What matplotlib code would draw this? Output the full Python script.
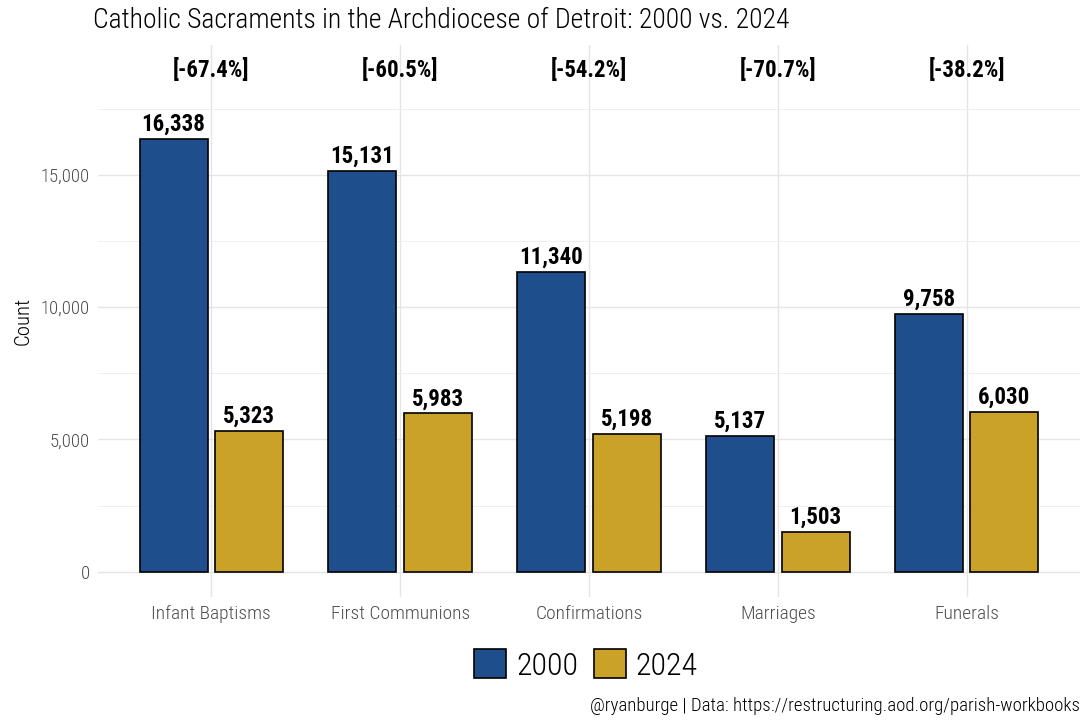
import matplotlib
matplotlib.use("Agg")
import matplotlib.pyplot as plt
from matplotlib import font_manager as fm
from matplotlib.patches import Patch
import numpy as np

categories = ["Infant Baptisms", "First Communions", "Confirmations", "Marriages", "Funerals"]
vals_2000 = [16338, 15131, 11340, 5137, 9758]
vals_2024 = [5323, 5983, 5198, 1503, 6030]
pct_labels = ["[-67.4%]", "[-60.5%]", "[-54.2%]", "[-70.7%]", "[-38.2%]"]
years = ["2000", "2024"]
yticks = [0, 5000, 10000, 15000]

blue = "#1F4E8C"
gold = "#C9A227"

names = {f.name for f in fm.fontManager.ttflist}
fam = None
for cand in ["Roboto Condensed", "Liberation Sans Narrow", "DejaVu Sans Condensed", "Roboto"]:
    if cand in names:
        fam = cand
        break
plt.rcParams["font.family"] = [fam or "DejaVu Sans", "DejaVu Sans"]

fig = plt.figure(figsize=(10.89, 7.26), dpi=100)
ax = fig.add_axes([98/1089, 1-597/726, (1080-98)/1089, (597-45)/726])

x = np.arange(1, len(categories)+1)
w = 0.36
ax.bar(x-0.2, vals_2000, width=w, color=blue, edgecolor="black", linewidth=1.2, zorder=3)
ax.bar(x+0.2, vals_2024, width=w, color=gold, edgecolor="black", linewidth=1.2, zorder=3)

for xi, v in zip(x, vals_2000):
    ax.text(xi-0.2, v+120, f"{v:,}", ha="center", va="bottom", fontsize=16.5, fontweight="bold", zorder=4)
for xi, v in zip(x, vals_2024):
    ax.text(xi+0.2, v+120, f"{v:,}", ha="center", va="bottom", fontsize=16.5, fontweight="bold", zorder=4)
for xi, p in zip(x, pct_labels):
    ax.text(xi, 18950, p, ha="center", va="center", fontsize=16.5, fontweight="bold", zorder=4)

ax.set_xlim(0.4, 5.6)
ax.set_ylim(-950, 19900)
ax.set_xticks(x)
ax.set_xticklabels(categories, fontsize=14, color="#4d4d4d", fontweight="light")
ax.set_yticks(yticks)
ax.set_yticklabels([f"{t:,}" for t in yticks], fontsize=13.5, color="#4d4d4d", fontweight="light")
ax.set_yticks([2500, 7500, 12500, 17500], minor=True)
ax.grid(True, which="major", color="#e5e5e5", linewidth=1.0, zorder=0)
ax.grid(True, which="minor", axis="y", color="#efefef", linewidth=0.7, zorder=0)
ax.tick_params(which="both", length=0, pad=6)
for s in ax.spines.values():
    s.set_visible(False)
ax.set_ylabel("Count", fontsize=15, labelpad=6, fontweight="light")

fig.text(93/1089, 1-20/726, "Catholic Sacraments in the Archdiocese of Detroit: 2000 vs. 2024",
         fontsize=19.9, ha="left", va="center", fontweight="light")

handles = [Patch(facecolor=blue, edgecolor="black", linewidth=1.2),
           Patch(facecolor=gold, edgecolor="black", linewidth=1.2)]
fig.legend(handles, years, loc="center", bbox_to_anchor=(586/1089, 1-665/726), ncol=2,
           frameon=False, handlelength=1.0, handleheight=1.0,
           handletextpad=0.3, columnspacing=0.5, prop={"weight": "light", "size": 23})

fig.text(1080/1089, 1-706/726, "@ryanburge | Data: https://restructuring.aod.org/parish-workbooks",
         fontsize=13.6, ha="right", va="center", fontweight="light")

fig.savefig("out.png", dpi=100)
